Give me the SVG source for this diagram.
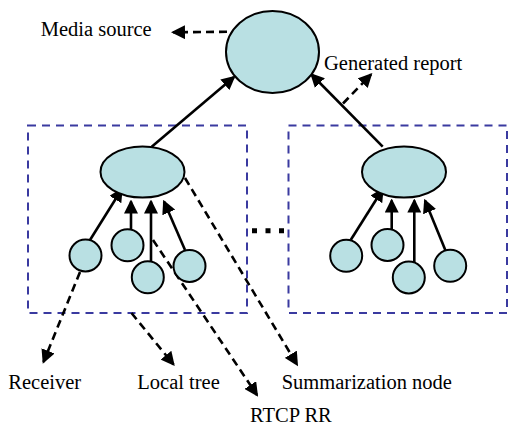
<svg xmlns="http://www.w3.org/2000/svg" width="509" height="430" viewBox="0 0 509 430">
<defs>
<marker id="ah" markerUnits="userSpaceOnUse" markerWidth="14" markerHeight="14" refX="12" refY="7" orient="auto">
<path d="M0,0 L14,7 L0,14 z" fill="#000"/>
</marker>
<style>
.node{fill:#b9e0e3;stroke:#000;stroke-width:2}
.solid{stroke:#000;stroke-width:2.6;fill:none;marker-end:url(#ah)}
.dash{stroke:#000;stroke-width:2.6;fill:none;stroke-dasharray:8 5;marker-end:url(#ah)}
.box{fill:none;stroke:#3a3aa0;stroke-width:2;stroke-dasharray:8 6}
.lbl{font-family:'Liberation Serif','DejaVu Serif','Noto Serif',serif;font-size:20.5px;fill:#000}
</style>
</defs>
<rect width="509" height="430" fill="#fff"/>
<g id="groups">
<rect class="box" x="28" y="125.5" width="219" height="187.5"/>
<rect class="box" x="288.5" y="125.5" width="218.5" height="187.5"/>
<line x1="252" y1="230.7" x2="285" y2="230.7" stroke="#000" stroke-width="5" stroke-dasharray="5 8.5"/>
</g>
<g id="connectors">
<line class="solid" x1="151.7" y1="146.7" x2="234" y2="77"/>
<line class="solid" x1="382.7" y1="146.7" x2="311.5" y2="74.5"/>
<line class="solid" x1="90" y1="240" x2="121.7" y2="189.3"/>
<line class="solid" x1="131" y1="230" x2="131" y2="201.5"/>
<line class="solid" x1="151" y1="262" x2="151" y2="201.5"/>
<line class="solid" x1="185" y1="250" x2="164" y2="201.5"/>
<line class="solid" x1="350.7" y1="240" x2="382.7" y2="189.3"/>
<line class="solid" x1="391.7" y1="230" x2="391.7" y2="200.5"/>
<line class="solid" x1="414.3" y1="262" x2="414.3" y2="200.5"/>
<line class="solid" x1="446" y1="251.7" x2="425" y2="200.5"/>
<line class="dash" x1="227" y1="31.8" x2="173" y2="32.3"/>
<line class="dash" x1="343" y1="103.5" x2="371" y2="74.5"/>
<line class="dash" x1="185" y1="178" x2="297" y2="364.5"/>
<line class="dash" x1="153" y1="240" x2="257" y2="395"/>
<line class="dash" x1="80" y1="272" x2="43.5" y2="362"/>
<line class="dash" x1="131.5" y1="313" x2="173.5" y2="364.5"/>
</g>
<g id="media-source-node"><ellipse class="node" cx="272.5" cy="52" rx="46.5" ry="41"/></g>
<g id="summarization-left"><ellipse class="node" cx="142.5" cy="172" rx="42" ry="25.5"/></g>
<g id="summarization-right"><ellipse class="node" cx="404" cy="172" rx="42" ry="25.5"/></g>
<g id="receivers-left">
<circle class="node" cx="85.5" cy="255.5" r="16"/>
<circle class="node" cx="127.5" cy="245.3" r="16"/>
<circle class="node" cx="147.8" cy="277.3" r="16"/>
<circle class="node" cx="189.5" cy="266" r="16"/>
</g>
<g id="receivers-right">
<circle class="node" cx="346.2" cy="255.8" r="16"/>
<circle class="node" cx="387.5" cy="245" r="16"/>
<circle class="node" cx="408.8" cy="277.5" r="16"/>
<circle class="node" cx="450.2" cy="265.8" r="16"/>
</g>
<g id="labels">
<text class="lbl" x="40.7" y="35.5">Media source</text>
<text class="lbl" x="324" y="69.5">Generated report</text>
<text class="lbl" x="8.3" y="389.3">Receiver</text>
<text class="lbl" x="137.3" y="389.3">Local tree</text>
<text class="lbl" x="281.7" y="389.3">Summarization node</text>
<text class="lbl" x="250" y="422">RTCP RR</text>
</g>
</svg>
